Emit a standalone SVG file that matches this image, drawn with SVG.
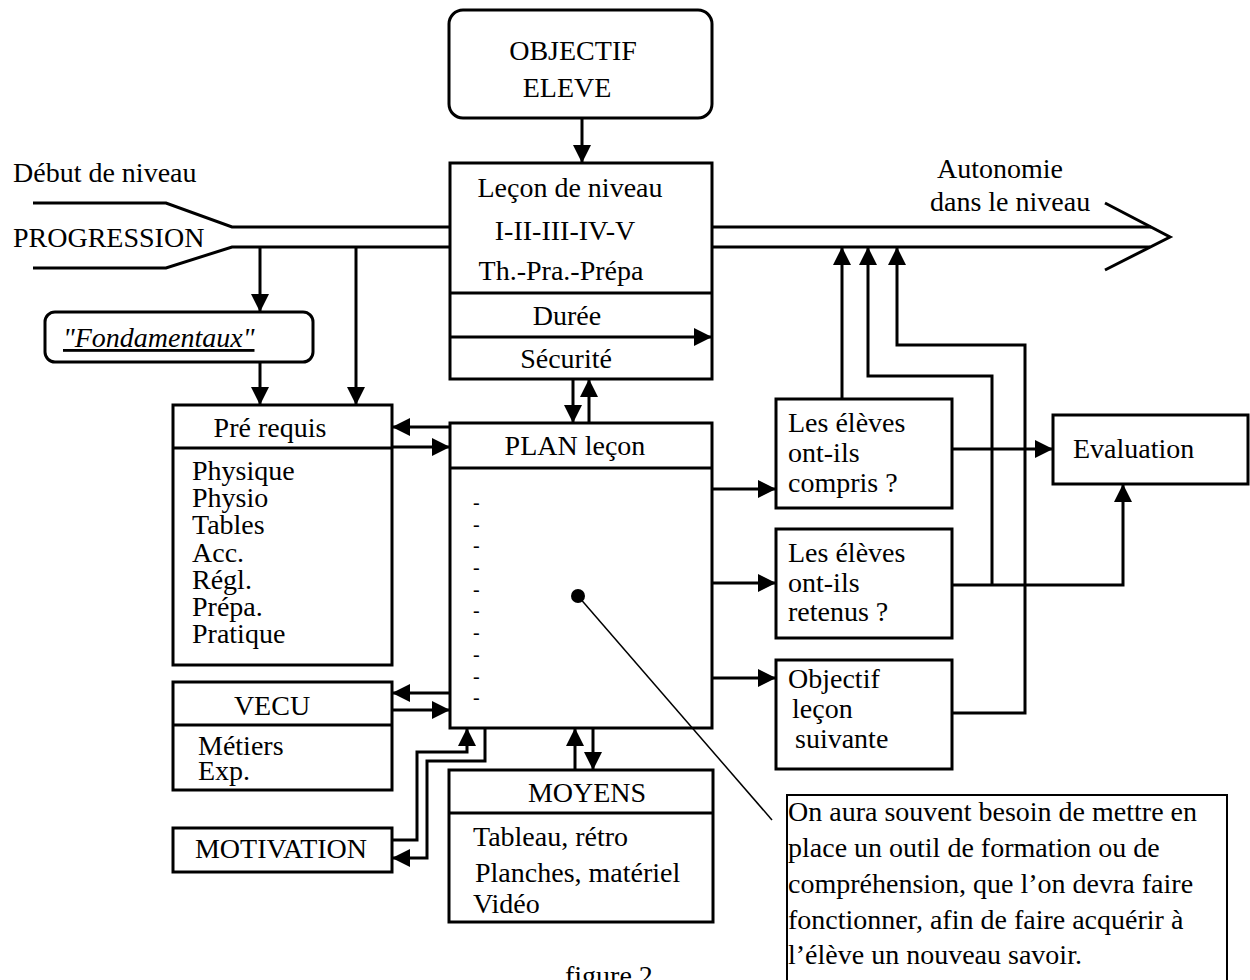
<svg xmlns="http://www.w3.org/2000/svg" width="1250" height="980" viewBox="0 0 1250 980">
<defs>
<style>
.box{fill:#fff;stroke:#000;stroke-width:3}
.ln{fill:none;stroke:#000;stroke-width:3}
.c{fill:none;stroke:#000;stroke-width:3;marker-end:url(#a)}
.t{font-family:"Liberation Serif","Times New Roman",serif;font-size:28px;fill:#000}
.m{text-anchor:middle}
.d{font-family:"Liberation Serif","Times New Roman",serif;font-size:20px;fill:#000}
</style>
<marker id="a" markerUnits="userSpaceOnUse" markerWidth="20" markerHeight="20" refX="18" refY="9" orient="auto">
<path d="M0,0 L18,9 L0,18 z" fill="#000"/>
</marker>
</defs>
<rect width="1250" height="980" fill="#fff"/>

<g id="progression">
<path class="ln" d="M33,203 H166 L232,227 H450"/>
<path class="ln" d="M33,268 H166 L232,247 H450"/>
<path class="ln" d="M712,227 H1151"/>
<path class="ln" d="M712,247 H1150"/>
<path class="ln" d="M1105,203 L1170,237 L1105,270"/>
<text class="t" x="13" y="182">Début de niveau</text>
<text class="t" x="13" y="247">PROGRESSION</text>
<text class="t m" x="1000" y="178">Autonomie</text>
<text class="t" x="930" y="211">dans le niveau</text>
</g>

<g id="objectif-eleve">
<rect class="box" x="449" y="10" width="263" height="108" rx="14"/>
<text class="t m" x="573" y="60">OBJECTIF</text>
<text class="t m" x="567" y="97">ELEVE</text>
</g>

<g id="lecon">
<rect class="box" x="450" y="163" width="262" height="216"/>
<line class="ln" x1="450" y1="293" x2="712" y2="293"/>
<text class="t m" x="570" y="197">Leçon de niveau</text>
<text class="t m" x="565" y="240">I-II-III-IV-V</text>
<text class="t m" x="561" y="280">Th.-Pra.-Prépa</text>
<text class="t m" x="567" y="325">Durée</text>
<text class="t m" x="566" y="368">Sécurité</text>
</g>

<g id="fondamentaux">
<rect class="box" x="45" y="312" width="268" height="50" rx="10"/>
<text class="t" x="63" y="347" font-style="italic" text-decoration="underline">"Fondamentaux"</text>
</g>

<g id="prerequis">
<rect class="box" x="173" y="405" width="219" height="260"/>
<line class="ln" x1="173" y1="448" x2="392" y2="448"/>
<text class="t m" x="270" y="437">Pré requis</text>
<text class="t" x="192" y="480">Physique</text>
<text class="t" x="192" y="507">Physio</text>
<text class="t" x="192" y="534">Tables</text>
<text class="t" x="192" y="562">Acc.</text>
<text class="t" x="192" y="589">Régl.</text>
<text class="t" x="192" y="616">Prépa.</text>
<text class="t" x="192" y="643">Pratique</text>
</g>

<g id="vecu">
<rect class="box" x="173" y="682" width="219" height="108"/>
<line class="ln" x1="173" y1="725" x2="392" y2="725"/>
<text class="t m" x="272" y="715">VECU</text>
<text class="t" x="198" y="755">Métiers</text>
<text class="t" x="198" y="780">Exp.</text>
</g>

<g id="motivation">
<rect class="box" x="173" y="828" width="219" height="44"/>
<text class="t m" x="281" y="858">MOTIVATION</text>
</g>

<g id="plan">
<rect class="box" x="450" y="423" width="262" height="305"/>
<line class="ln" x1="450" y1="468" x2="712" y2="468"/>
<text class="t m" x="575" y="455">PLAN leçon</text>
<text class="d" x="473" y="509">-</text>
<text class="d" x="473" y="531">-</text>
<text class="d" x="473" y="552">-</text>
<text class="d" x="473" y="574">-</text>
<text class="d" x="473" y="596">-</text>
<text class="d" x="473" y="617">-</text>
<text class="d" x="473" y="639">-</text>
<text class="d" x="473" y="661">-</text>
<text class="d" x="473" y="683">-</text>
<text class="d" x="473" y="704">-</text>
<circle cx="578" cy="596" r="7" fill="#000"/>
</g>

<g id="moyens">
<rect class="box" x="449" y="770" width="264" height="152"/>
<line class="ln" x1="449" y1="813" x2="713" y2="813"/>
<text class="t m" x="587" y="802">MOYENS</text>
<text class="t" x="473" y="846">Tableau, rétro</text>
<text class="t" x="475" y="882">Planches, matériel</text>
<text class="t" x="473" y="913">Vidéo</text>
</g>

<g id="compris">
<rect class="box" x="776" y="399" width="176" height="109"/>
<text class="t" x="788" y="432">Les élèves</text>
<text class="t" x="788" y="462">ont-ils</text>
<text class="t" x="788" y="492">compris ?</text>
</g>

<g id="retenus">
<rect class="box" x="776" y="529" width="176" height="109"/>
<text class="t" x="788" y="562">Les élèves</text>
<text class="t" x="788" y="592">ont-ils</text>
<text class="t" x="788" y="621">retenus ?</text>
</g>

<g id="objectif-lecon">
<rect class="box" x="776" y="660" width="176" height="109"/>
<text class="t" x="788" y="688">Objectif</text>
<text class="t" x="792" y="718">leçon</text>
<text class="t" x="795" y="748">suivante</text>
</g>

<g id="evaluation">
<rect class="box" x="1053" y="415" width="195" height="69"/>
<text class="t" x="1073" y="458">Evaluation</text>
</g>

<g id="note">
<rect x="787" y="795" width="440" height="200" fill="#fff" stroke="#000" stroke-width="2"/>
<text class="t" x="788" y="821">On aura souvent besoin de mettre en</text>
<text class="t" x="788" y="857">place un outil de formation ou de</text>
<text class="t" x="788" y="893">compréhension, que l’on devra faire</text>
<text class="t" x="788" y="929">fonctionner, afin de faire acquérir à</text>
<text class="t" x="788" y="964">l’élève un nouveau savoir.</text>
</g>

<g id="caption">
<text class="t" x="565" y="985">figure 2</text>
</g>

<g id="connectors">
<path class="c" d="M582,118 V163"/>
<path class="c" d="M450,337 H712"/>
<path class="c" d="M260,247 V312"/>
<path class="c" d="M260,362 V405"/>
<path class="c" d="M356,247 V405"/>
<path class="c" d="M450,427 H392"/>
<path class="c" d="M392,447 H450"/>
<path class="c" d="M450,693 H392"/>
<path class="c" d="M392,710 H450"/>
<path class="c" d="M392,840 H417 V752 H467 V728"/>
<path class="c" d="M485,728 V761 H427 V858 H392"/>
<path class="c" d="M573,379 V423"/>
<path class="c" d="M589,423 V379"/>
<path class="c" d="M575,770 V728"/>
<path class="c" d="M593,728 V770"/>
<path class="c" d="M712,489 H776"/>
<path class="c" d="M712,583 H776"/>
<path class="c" d="M712,678 H776"/>
<path class="c" d="M842,399 V247"/>
<path class="c" d="M992,585 V376 H868 V247"/>
<path class="c" d="M952,713 H1025 V345 H897 V247"/>
<path class="c" d="M952,449 H1053"/>
<path class="c" d="M952,585 H1123 V484"/>
<path d="M578,596 L772,820" fill="none" stroke="#000" stroke-width="1.5"/>
</g>
</svg>
